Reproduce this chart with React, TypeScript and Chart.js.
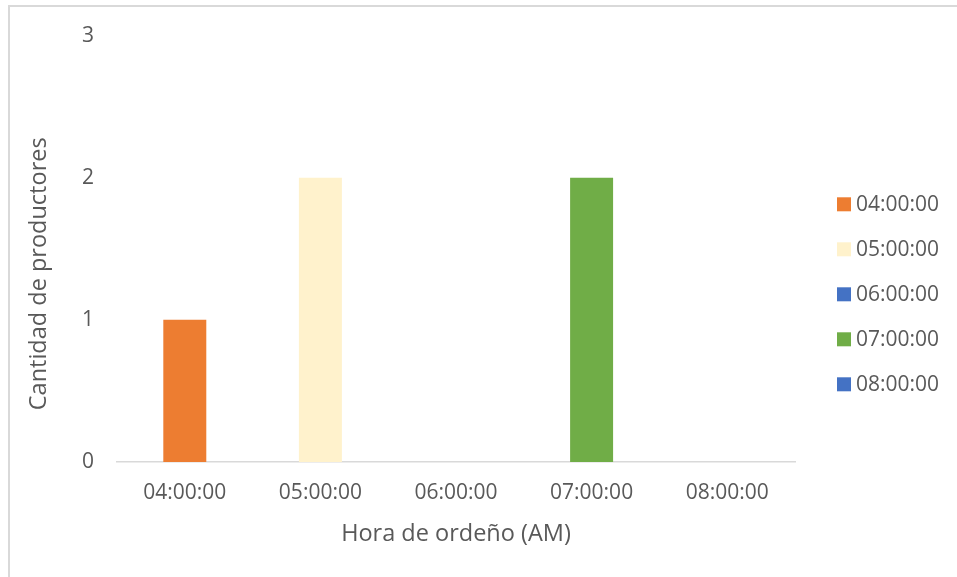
import React, { useEffect, useRef } from "react";
import { Chart, registerables } from "chart.js";

Chart.register(...registerables);

const categories = ["04:00:00", "05:00:00", "06:00:00", "07:00:00", "08:00:00"];
const values = [1, 2, 0, 2, 0];
const barColors = ["#ED7D31", "#FFF2CC", "#4472C4", "#70AD47", "#4472C4"];
const yMin = 0;
const yMax = 3;
const yStep = 1;
const xTitle = "Hora de ordeño (AM)";
const yTitle = "Cantidad de productores";

const FONT = "'Open Sans', sans-serif";
const TEXT = "#595959";
const FONT_SIZE = 21;
const TITLE_SIZE = 23.5;

const extrasPlugin = {
  id: "extras",
  afterDraw(chart: any) {
    const ctx = chart.ctx as CanvasRenderingContext2D;
    const area = chart.chartArea;
    // y axis title
    ctx.save();
    ctx.fillStyle = TEXT;
    ctx.font = `${TITLE_SIZE}px ${FONT}`;
    ctx.translate(39, (area.top + area.bottom) / 2 + 25);
    ctx.rotate(-Math.PI / 2);
    ctx.textAlign = "center";
    ctx.textBaseline = "middle";
    ctx.fillText(yTitle, 0, 0);
    ctx.restore();

    // legend
    ctx.save();
    ctx.font = `${FONT_SIZE}px ${FONT}`;
    ctx.textBaseline = "middle";
    ctx.textAlign = "left";
    const labels: string[] = chart.data.labels;
    const colors: string[] = chart.data.datasets[0].backgroundColor;
    const spacing = 45;
    const mid = (area.top + area.bottom) / 2 + 45.5;
    const startY = mid - ((labels.length - 1) * spacing) / 2;
    const boxX = area.right + 42;
    labels.forEach((lab, i) => {
      const cy = startY + i * spacing;
      ctx.fillStyle = colors[i];
      ctx.fillRect(boxX, cy - 7, 14, 14);
      ctx.fillStyle = TEXT;
      ctx.fillText(lab, boxX + 19, cy + 1);
    });
    ctx.restore();
  },
};

export default function App() {
  const canvasRef = useRef<HTMLCanvasElement | null>(null);

  useEffect(() => {
    if (!canvasRef.current) return;
    const chart = new Chart(canvasRef.current, {
      type: "bar",
      data: {
        labels: categories,
        datasets: [
          {
            label: "Cantidad",
            data: values,
            backgroundColor: barColors,
            borderWidth: 0,
            barPercentage: 0.317,
            categoryPercentage: 1,
          },
        ],
      },
      options: {
        animation: false,
        responsive: false,
        maintainAspectRatio: false,
        layout: { padding: { top: 33, right: 162, bottom: 0, left: 0 } },
        plugins: {
          legend: { display: false },
          tooltip: { enabled: false },
        },
        scales: {
          x: {
            grid: { display: false, drawTicks: false },
            border: { display: true, color: "#D9D9D9", width: 1.5 },
            ticks: {
              color: TEXT,
              font: { family: FONT, size: FONT_SIZE },
              padding: 18,
              maxRotation: 0,
            },
            title: {
              display: true,
              text: xTitle,
              color: TEXT,
              font: { family: FONT, size: TITLE_SIZE },
              padding: { top: 0, bottom: 29 },
            },
            afterFit(scale: any) {
              scale.height = 115;
            },
          },
          y: {
            min: yMin,
            max: yMax,
            grid: { display: false, drawTicks: false },
            border: { display: false },
            ticks: {
              stepSize: yStep,
              color: TEXT,
              font: { family: FONT, size: FONT_SIZE },
              padding: 23,
            },
            afterFit(scale: any) {
              scale.width = 117;
            },
          },
        },
      },
      plugins: [extrasPlugin],
    });
    return () => chart.destroy();
  }, []);

  return (
    <div style={{ position: "absolute", left: 0, top: 0, width: 957, height: 577, background: "#fff" }}>
      <div
        style={{
          position: "absolute",
          left: 8,
          top: 5,
          width: 949,
          height: 572,
          borderTop: "2px solid #D9D9D9",
          borderLeft: "2px solid #D9D9D9",
          boxSizing: "border-box",
        }}
      />
      <canvas
        ref={canvasRef}
        width={957}
        height={577}
        style={{ position: "absolute", left: 0, top: 0, width: 957, height: 577 }}
      />
    </div>
  );
}
